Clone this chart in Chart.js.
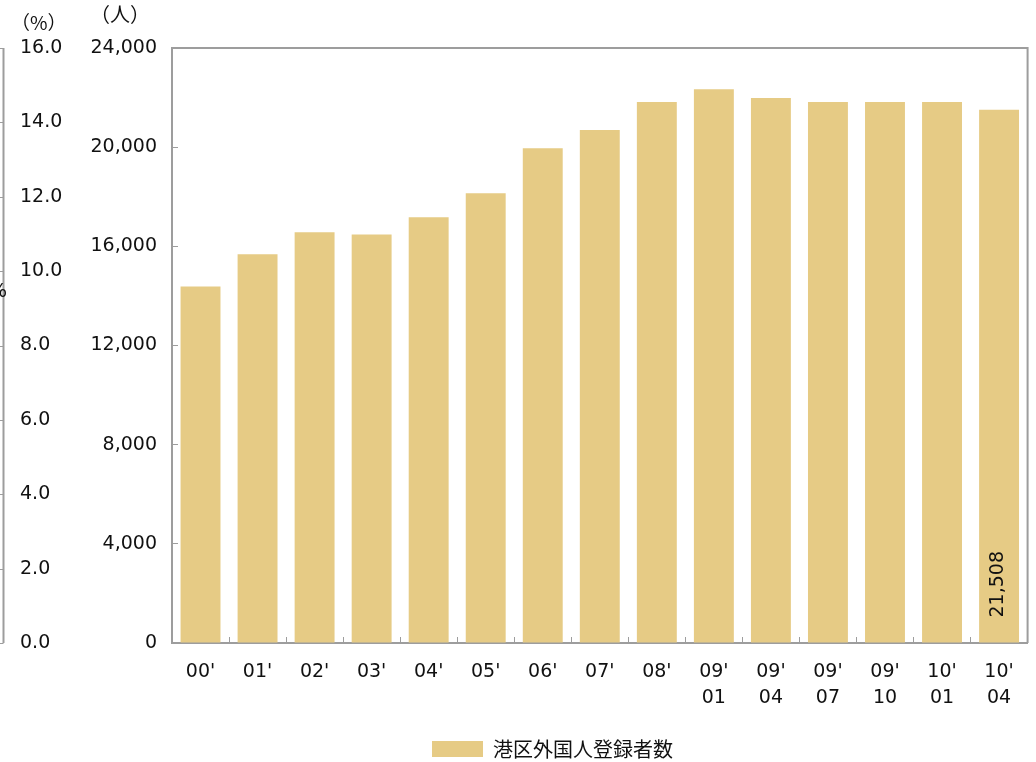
<!DOCTYPE html>
<html>
<head>
<meta charset="utf-8">
<script src="https://cdn.jsdelivr.net/npm/chart.js@4.4.1/dist/chart.umd.min.js"></script>
<style>
  html, body { margin: 0; padding: 0; background: #fff; }
  #wrap { width: 1036px; height: 762px; }
</style>
</head>
<body>
<div id="wrap"><canvas id="c" width="1036" height="762"></canvas></div>
<script>
// Registered foreign residents in Minato ward, by year / month
const categories = ["00'", "01'", "02'", "03'", "04'", "05'", "06'", "07'", "08'",
  ["09'", "01"], ["09'", "04"], ["09'", "07"], ["09'", "10"], ["10'", "01"], ["10'", "04"]];
const registered = [14380, 15680, 16570, 16480, 17170, 18140, 19960, 20690, 21820,
  22340, 21980, 21820, 21820, 21820, 21508];
const seriesName = '港区外国人登録者数';
const labelledIndex = 14;

// Axis ranges
const countAxis = { min: 0, max: 24000, step: 4000 };
const ratioAxis = { min: 0, max: 16, step: 2 };
const countUnit = '（人）';
const ratioUnit = '（%）';

const INK = '#111';
const AXIS = '#9d9d9d';
const BAR = '#e6cb85';
const NUM_FONT = 'DejaVu Sans';
const CJK_FONT = 'Noto Sans CJK JP';

// Frame, ratio axis line, unit captions and the value label on the last bar
const decorations = {
  id: 'decorations',
  afterLayout(chart) {
    // centre the legend under the bars
    chart.legend.left += 28;
    chart.legend.right += 28;
  },
  afterDraw(chart) {
    const { ctx, chartArea } = chart;
    const pct = chart.scales.yPct;
    ctx.save();
    // top and right edges of the plot frame
    ctx.strokeStyle = AXIS;
    ctx.lineWidth = 2;
    ctx.beginPath();
    ctx.moveTo(chartArea.left, chartArea.top);
    ctx.lineTo(chartArea.right, chartArea.top);
    ctx.lineTo(chartArea.right, chartArea.bottom);
    ctx.stroke();

    // ratio axis line with outward tick marks
    const axisX = 3.5;
    ctx.beginPath();
    ctx.moveTo(axisX, pct.top);
    ctx.lineTo(axisX, pct.bottom);
    ctx.stroke();
    ctx.lineWidth = 1;
    ctx.beginPath();
    pct.ticks.forEach(t => {
      const y = Math.round(pct.getPixelForValue(t.value)) + 0.5;
      ctx.moveTo(0, y);
      ctx.lineTo(axisX, y);
    });
    ctx.stroke();

    // unit captions
    ctx.fillStyle = INK;
    ctx.textBaseline = 'middle';
    ctx.textAlign = 'left';
    ctx.font = `19px "${CJK_FONT}"`;
    ctx.fillText(ratioUnit, 11, 23);
    ctx.font = `20px "${CJK_FONT}"`;
    ctx.fillText(countUnit, 90, 14);
    ctx.font = `19px "${NUM_FONT}"`;
    ctx.fillText('%', -11, 292);

    // value label on the most recent bar
    const bar = chart.getDatasetMeta(0).data[labelledIndex];
    const value = chart.data.datasets[0].data[labelledIndex];
    ctx.translate(bar.x - 1, bar.base - 25);
    ctx.rotate(-Math.PI / 2);
    ctx.textAlign = 'left';
    ctx.textBaseline = 'middle';
    ctx.font = `19px "${NUM_FONT}"`;
    ctx.fillText(value.toLocaleString('en-US'), 0, 0);
    ctx.restore();
  }
};

new Chart(document.getElementById('c'), {
  type: 'bar',
  data: {
    labels: categories,
    datasets: [{
      label: seriesName,
      data: registered,
      backgroundColor: BAR,
      borderWidth: 0,
      barPercentage: 0.7,
      categoryPercentage: 1.0,
      yAxisID: 'y'
    }]
  },
  options: {
    responsive: false,
    animation: false,
    layout: { padding: { left: 20, right: 7, top: 48, bottom: -7 } },
    plugins: {
      tooltip: { enabled: false },
      legend: {
        position: 'bottom',
        labels: {
          boxWidth: 51,
          boxHeight: 16,
          padding: 4,
          color: INK,
          font: { family: CJK_FONT, size: 20 }
        }
      }
    },
    scales: {
      x: {
        offset: true,
        grid: {
          display: true, drawOnChartArea: false, drawTicks: true,
          tickLength: -6, offset: true, color: AXIS, lineWidth: 1
        },
        border: { display: true, color: AXIS, width: 2 },
        ticks: {
          autoSkip: false, maxRotation: 0, minRotation: 0, padding: 22,
          color: INK, font: { family: NUM_FONT, size: 19, lineHeight: 1.37 }
        },
        afterFit(s) { s.height = 92; }
      },
      y: {
        position: 'left',
        weight: 0,
        min: countAxis.min,
        max: countAxis.max,
        grid: { drawOnChartArea: false, drawTicks: true, tickLength: -6, color: AXIS, lineWidth: 1 },
        border: { display: true, color: AXIS, width: 2 },
        ticks: {
          stepSize: countAxis.step,
          padding: 21,
          color: INK,
          font: { family: NUM_FONT, size: 19 },
          callback: v => v.toLocaleString('en-US')
        },
        afterFit(s) { s.width = 87; }
      },
      yPct: {
        position: 'left',
        weight: 1,
        min: ratioAxis.min,
        max: ratioAxis.max,
        grid: { display: false, drawTicks: false },
        border: { display: false },
        ticks: {
          stepSize: ratioAxis.step,
          crossAlign: 'far',
          color: INK,
          font: { family: NUM_FONT, size: 19 },
          callback: v => v.toFixed(1)
        },
        afterFit(s) { s.width = 65; }
      }
    }
  },
  plugins: [decorations]
});
</script>
</body>
</html>
